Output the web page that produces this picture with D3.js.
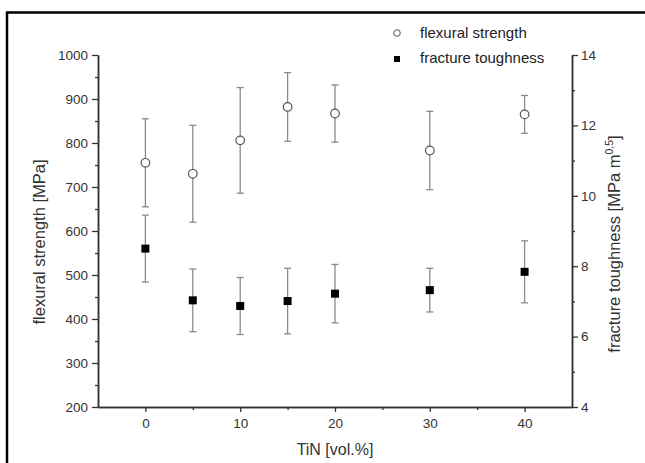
<!DOCTYPE html>
<html>
<head>
<meta charset="utf-8">
<script src="https://cdn.jsdelivr.net/npm/d3@7"></script>
<style>
    body { margin: 0; background: #fff; }
    svg { display: block; font-family: "Liberation Sans", Arial, sans-serif; }
</style>
</head>
<body>
<svg id="chart" width="645" height="463"></svg>
<script>
// TiN content [vol.%]
const tinContent = [0, 5, 10, 15, 20, 30, 40];
// flexural strength [MPa] and its std deviation
const strength = [755, 730, 806, 882, 867, 783, 865];
const strengthErr = [100, 110, 120, 78, 65, 89, 43];
// fracture toughness [MPa m^0.5] and its std deviation
const toughness = [8.5, 7.03, 6.87, 7.01, 7.22, 7.32, 7.84];
const toughnessErr = [0.95, 0.89, 0.81, 0.93, 0.83, 0.62, 0.88];

const xTicks = [0, 10, 20, 30, 40];
const leftTicks = [200, 300, 400, 500, 600, 700, 800, 900, 1000];
const rightTicks = [4, 6, 8, 10, 12, 14];

const svg = d3.select("#chart");
const margin = {left: 98, right: 572, top: 55, bottom: 407};
const axisColor = "#333";
const barColor = "#8a8a8a";

const x = d3.scaleLinear().domain([-5, 45]).range([margin.left, margin.right]);
const yLeft = d3.scaleLinear().domain([200, 1000]).range([margin.bottom, margin.top]);
const yRight = d3.scaleLinear().domain([4, 14]).range([margin.bottom, margin.top]);

// outer frame (cut by the picture edge on the right and bottom)
svg.append("rect")
    .attr("x", 7).attr("y", 12.5)
    .attr("width", 700).attr("height", 500)
    .attr("fill", "none")
    .attr("stroke", "#000")
    .attr("stroke-width", 2.5);

const styleAxis = (g) => {
    g.select(".domain").attr("stroke", axisColor).attr("stroke-width", 1.5);
    g.selectAll(".tick line").attr("stroke", axisColor).attr("stroke-width", 1.3);
    g.selectAll(".tick text").attr("fill", axisColor).attr("font-size", 13.5);
};

// minor ticks first, major ticks with labels on top
svg.append("g")
    .attr("transform", `translate(0,${margin.bottom})`)
    .call(d3.axisBottom(x).tickValues([5, 15, 25, 35]).tickSize(3).tickFormat("").tickSizeOuter(0))
    .call(styleAxis);
svg.append("g")
    .attr("transform", `translate(0,${margin.bottom})`)
    .call(d3.axisBottom(x).tickValues(xTicks).tickSize(5).tickPadding(6).tickSizeOuter(0))
    .call(styleAxis);

svg.append("g")
    .attr("transform", `translate(${margin.left},0)`)
    .call(d3.axisLeft(yLeft).tickValues(d3.range(250, 1000, 100)).tickSize(3).tickFormat("").tickSizeOuter(0))
    .call(styleAxis);
svg.append("g")
    .attr("transform", `translate(${margin.left},0)`)
    .call(d3.axisLeft(yLeft).tickValues(leftTicks).tickFormat(d3.format("d")).tickSize(6).tickPadding(4).tickSizeOuter(0))
    .call(styleAxis);

svg.append("g")
    .attr("transform", `translate(${margin.right},0)`)
    .call(d3.axisRight(yRight).tickValues([5, 7, 9, 11, 13]).tickSize(3).tickFormat("").tickSizeOuter(0))
    .call(styleAxis);
svg.append("g")
    .attr("transform", `translate(${margin.right},0)`)
    .call(d3.axisRight(yRight).tickValues(rightTicks).tickSize(6).tickPadding(3).tickSizeOuter(0))
    .call(styleAxis);

// axis titles
svg.append("text")
    .attr("x", 335).attr("y", 455)
    .attr("text-anchor", "middle")
    .attr("font-size", 16).attr("fill", axisColor)
    .text("TiN [vol.%]");

svg.append("text")
    .attr("transform", "translate(45,242) rotate(-90)")
    .attr("text-anchor", "middle")
    .attr("font-size", 16.5).attr("fill", axisColor)
    .text("flexural strength [MPa]");

const rightTitle = svg.append("text")
    .attr("transform", "translate(620,244) rotate(-90)")
    .attr("text-anchor", "middle")
    .attr("font-size", 16.5).attr("fill", axisColor);
rightTitle.append("tspan").text("fracture toughness [MPa m");
rightTitle.append("tspan").attr("dy", -7).attr("font-size", 10.5).text("0,5");
rightTitle.append("tspan").attr("dy", 7).text("]");

// error bars
const drawErrors = (values, errors, y) => {
    const g = svg.append("g").attr("stroke", barColor).attr("stroke-width", 1.3);
    tinContent.forEach((t, i) => {
        const cx = x(t), top = y(values[i] + errors[i]), bot = y(values[i] - errors[i]);
        g.append("line").attr("x1", cx).attr("x2", cx).attr("y1", top).attr("y2", bot);
        g.append("line").attr("x1", cx - 3.5).attr("x2", cx + 3.5).attr("y1", top).attr("y2", top);
        g.append("line").attr("x1", cx - 3.5).attr("x2", cx + 3.5).attr("y1", bot).attr("y2", bot);
    });
};
drawErrors(strength, strengthErr, yLeft);
drawErrors(toughness, toughnessErr, yRight);

// flexural strength: open circles
svg.append("g").selectAll("circle")
    .data(tinContent)
    .join("circle")
    .attr("cx", (d) => x(d))
    .attr("cy", (d, i) => yLeft(strength[i]))
    .attr("r", 4.3)
    .attr("fill", "#fff")
    .attr("stroke", "#555")
    .attr("stroke-width", 1.2);

// fracture toughness: filled squares
const sq = 8;
svg.append("g").selectAll("rect")
    .data(tinContent)
    .join("rect")
    .attr("x", (d) => x(d) - sq / 2)
    .attr("y", (d, i) => yRight(toughness[i]) - sq / 2)
    .attr("width", sq).attr("height", sq)
    .attr("fill", "#000");

// legend
const legend = svg.append("g").attr("font-size", 15).attr("fill", "#222");
legend.append("circle")
    .attr("cx", 397).attr("cy", 33).attr("r", 3.3)
    .attr("fill", "#fff").attr("stroke", "#555").attr("stroke-width", 1);
legend.append("text").attr("x", 420).attr("y", 38).text("flexural strength");
legend.append("rect")
    .attr("x", 394).attr("y", 56).attr("width", 6).attr("height", 6)
    .attr("fill", "#000");
legend.append("text").attr("x", 420).attr("y", 63).text("fracture toughness");
</script>
</body>
</html>
